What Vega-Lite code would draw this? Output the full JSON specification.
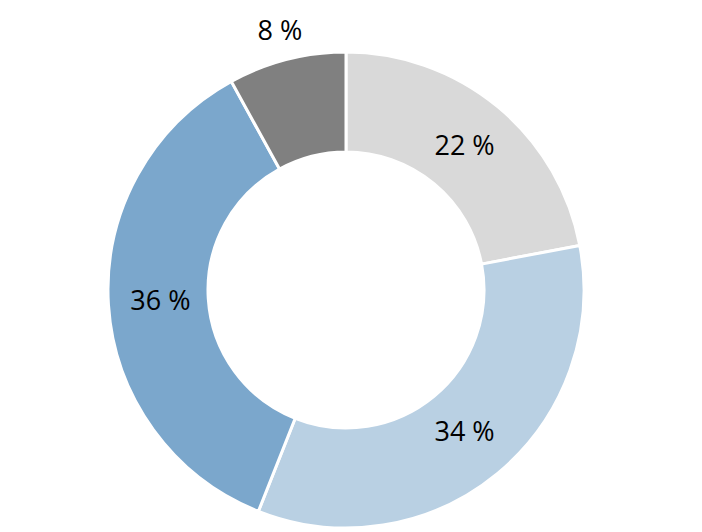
{
  "$schema": "https://vega.github.io/schema/vega-lite/v6.json",
  "width": 692,
  "height": 484,
  "autosize": "none",
  "padding": {"left": 0, "top": 48, "right": 10, "bottom": 0},
  "background": "white",
  "data": {
    "values": [
      {"category": "A", "value": 22, "order": 1, "label": "22 %"},
      {"category": "B", "value": 34, "order": 2, "label": "34 %"},
      {"category": "C", "value": 36, "order": 3, "label": "36 %"},
      {"category": "D", "value": 8, "order": 4, "label": "8 %"}
    ]
  },
  "layer": [
    {
      "mark": {"type": "arc", "outerRadius": 238, "innerRadius": 138, "stroke": "white", "strokeWidth": 3},
      "encoding": {
        "theta": {"field": "value", "type": "quantitative", "stack": true, "scale": {"domain": [0, 100]}},
        "order": {"field": "order", "type": "quantitative"},
        "color": {
          "field": "category", "type": "nominal", "legend": null,
          "scale": {"domain": ["A", "B", "C", "D"], "range": ["#d9d9d9", "#b9d0e3", "#7ba7cc", "#808080"]}
        }
      }
    },
    {
      "transform": [
        {"stack": "value", "groupby": [], "sort": [{"field": "order"}], "as": ["v0", "v1"]},
        {"calculate": "(datum.v0 + datum.v1) / 2", "as": "mid"},
        {"filter": "datum.value >= 10"}
      ],
      "mark": {"type": "text", "radius": 186, "font": "Open Sans", "fontSize": 27, "color": "black"},
      "encoding": {
        "theta": {"field": "mid", "type": "quantitative", "stack": null, "scale": {"domain": [0, 100]}},
        "text": {"field": "label"}
      }
    },
    {
      "transform": [
        {"stack": "value", "groupby": [], "sort": [{"field": "order"}], "as": ["v0", "v1"]},
        {"calculate": "(datum.v0 + datum.v1) / 2", "as": "mid"},
        {"filter": "datum.value < 10"}
      ],
      "mark": {"type": "text", "radius": 266, "font": "Open Sans", "fontSize": 27, "color": "black"},
      "encoding": {
        "theta": {"field": "mid", "type": "quantitative", "stack": null, "scale": {"domain": [0, 100]}},
        "text": {"field": "label"}
      }
    }
  ]
}
